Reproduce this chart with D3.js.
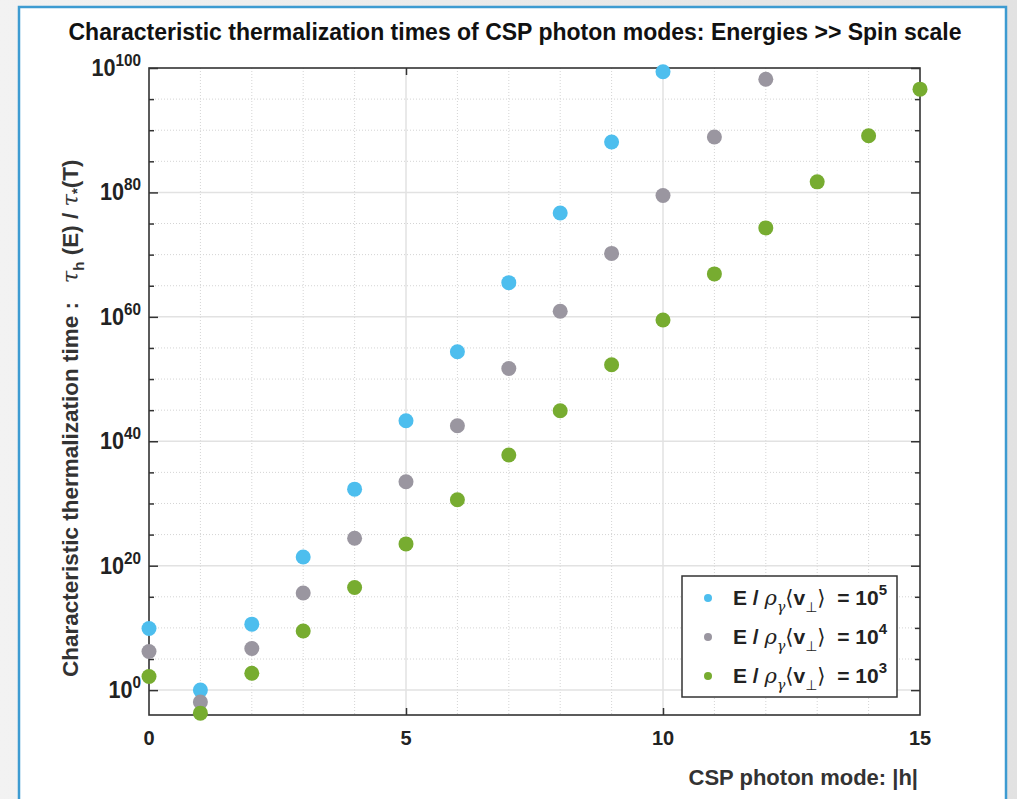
<!DOCTYPE html>
<html>
<head>
<meta charset="utf-8">
<script src="https://cdn.jsdelivr.net/npm/d3@7"></script>
<style>
  body { margin: 0; background: #fff; }
  text { font-family: "Liberation Sans", Arial, sans-serif; white-space: pre; }
</style>
</head>
<body>
<svg id="chart"></svg>
<script>
// data: log10 of tau_h(E)/tau_*(T)
let modes = d3.range(0, 16)
let blueExp  = [9.9, 0.0, 10.6, 21.4, 32.3, 43.3, 54.4, 65.5, 76.7, 88.1, 99.4]
let grayExp  = [6.2, -1.9, 6.7, 15.6, 24.4, 33.5, 42.5, 51.7, 60.9, 70.2, 79.5, 88.9, 98.2]
let greenExp = [2.2, -3.7, 2.7, 9.5, 16.5, 23.5, 30.6, 37.8, 44.9, 52.3, 59.5, 66.9, 74.3, 81.7, 89.1, 96.6]
let legendPow = ['5', '4', '3']
let xTicks = [0, 5, 10, 15]
let yTickExp = [0, 20, 40, 60, 80, 100]

let series = [
  {name: '5', exps: blueExp,  color: '#4dbeee'},
  {name: '4', exps: grayExp,  color: '#9a96a0'},
  {name: '3', exps: greenExp, color: '#77ac30'},
]

let W = 1017, H = 799
let svg = d3.select('#chart').attr('width', W).attr('height', H)

// page frame
let defs = svg.append('defs')
let grad = defs.append('linearGradient').attr('id', 'bg').attr('x1', 0).attr('x2', 1)
grad.append('stop').attr('offset', '0%').attr('stop-color', '#f2f2f2')
grad.append('stop').attr('offset', '100%').attr('stop-color', '#e2e2e2')
svg.append('rect').attr('width', W).attr('height', H).attr('fill', 'url(#bg)')
svg.append('rect').attr('x', 19).attr('y', 7).attr('width', 987).attr('height', H)
  .attr('fill', '#fff').attr('stroke', '#3d9bd1').attr('stroke-width', 2.5)

let L = 149, R = 920, T = 68, B = 715
let x = d3.scaleLinear().domain([0, 15]).range([L, R])
let y = d3.scaleLog().domain([1e-4, 1e100]).range([B, T])

// grid
let grid = svg.append('g')
let minorX = d3.range(1, 15).filter(d => d % 5 != 0)
let minorY = d3.range(0, 100, 5).filter(d => d % 20 != 0)
grid.selectAll('.gx').data(minorX).enter().append('line')
  .attr('x1', d => x(d)).attr('x2', d => x(d)).attr('y1', T).attr('y2', B)
  .attr('stroke', '#d4d4d4').attr('stroke-dasharray', '1,2')
grid.selectAll('.gy').data(minorY).enter().append('line')
  .attr('y1', d => y(Math.pow(10, d))).attr('y2', d => y(Math.pow(10, d))).attr('x1', L).attr('x2', R)
  .attr('stroke', '#d4d4d4').attr('stroke-dasharray', '1,2')
grid.selectAll('.Gx').data([5, 10]).enter().append('line')
  .attr('x1', d => x(d)).attr('x2', d => x(d)).attr('y1', T).attr('y2', B)
  .attr('stroke', '#e2e2e2').attr('stroke-width', 1.5)
grid.selectAll('.Gy').data([0, 20, 40, 60, 80]).enter().append('line')
  .attr('y1', d => y(Math.pow(10, d))).attr('y2', d => y(Math.pow(10, d))).attr('x1', L).attr('x2', R)
  .attr('stroke', '#e2e2e2').attr('stroke-width', 1.5)

// axes: box with inward ticks
let axCol = '#333'
let ax = svg.append('g')
ax.append('g').attr('transform', `translate(0,${B})`)
  .call(d3.axisBottom(x).tickValues([5, 10]).tickSize(-7).tickFormat(''))
ax.append('g').attr('transform', `translate(0,${T})`)
  .call(d3.axisTop(x).tickValues([5, 10]).tickSize(-7).tickFormat(''))
ax.append('g').attr('transform', `translate(${L},0)`)
  .call(d3.axisLeft(y).tickValues(yTickExp.map(d => Math.pow(10, d))).tickSize(-9).tickFormat(''))
ax.append('g').attr('transform', `translate(${R},0)`)
  .call(d3.axisRight(y).tickValues(yTickExp.map(d => Math.pow(10, d))).tickSize(-9).tickFormat(''))
ax.append('g').attr('transform', `translate(${L},0)`)
  .call(d3.axisLeft(y).tickValues(minorY.map(d => Math.pow(10, d))).tickSize(-5).tickFormat(''))
ax.append('g').attr('transform', `translate(${R},0)`)
  .call(d3.axisRight(y).tickValues(minorY.map(d => Math.pow(10, d))).tickSize(-5).tickFormat(''))
ax.selectAll('.domain').remove()
ax.selectAll('line').attr('stroke', axCol).attr('stroke-width', 1.5)
ax.append('rect').attr('x', L).attr('y', T).attr('width', R - L).attr('height', B - T)
  .attr('fill', 'none').attr('stroke', axCol).attr('stroke-width', 1.6)

// tick labels
svg.selectAll('.xl').data(xTicks).enter().append('text')
  .attr('x', d => x(d)).attr('y', 745).attr('text-anchor', 'middle')
  .attr('font-size', 20).attr('font-weight', 'bold').attr('fill', '#222').text(d => d)
let yl = svg.selectAll('.yl').data(yTickExp).enter().append('g')
  .attr('transform', d => `translate(141,${y(Math.pow(10, d)) + 8}) scale(0.9,1)`)
  .append('text').attr('text-anchor', 'end').attr('font-weight', 'bold').attr('fill', '#222')
yl.append('tspan').attr('font-size', 24).text('10')
yl.append('tspan').attr('font-size', 17).attr('dy', -10).text(d => d)

// points
series.forEach(s => {
  svg.append('g').selectAll('circle').data(s.exps).enter().append('circle')
    .attr('cx', (d, i) => x(modes[i])).attr('cy', d => y(Math.pow(10, d)))
    .attr('r', 7.5).attr('fill', s.color)
})

// title
svg.append('text').attr('x', 515).attr('y', 40).attr('text-anchor', 'middle')
  .attr('font-size', 23).attr('font-weight', 'bold').attr('fill', '#111')
  .text('Characteristic thermalization times of CSP photon modes: Energies >> Spin scale')

// x label
svg.append('text').attr('x', 918).attr('y', 785).attr('text-anchor', 'end')
  .attr('font-size', 22).attr('font-weight', 'bold').attr('fill', '#333')
  .text('CSP photon mode: |h|')

// y label
let ylab = svg.append('text').attr('transform', 'translate(78,677) rotate(-90)')
  .attr('text-anchor', 'start').attr('font-size', 22.5).attr('font-weight', 'bold').attr('fill', '#333')
ylab.append('tspan').text('Characteristic thermalization time :   ')
ylab.append('tspan').attr('font-style', 'italic').attr('font-weight', 'normal').attr('font-family', 'DejaVu Serif').text('τ')
ylab.append('tspan').attr('font-size', 15).attr('dy', 6).text('h')
ylab.append('tspan').attr('dy', -6).text(' (E) / ')
ylab.append('tspan').attr('font-style', 'italic').attr('font-weight', 'normal').attr('font-family', 'DejaVu Serif').text('τ')
ylab.append('tspan').attr('font-size', 15).attr('dy', 4).text('*')
ylab.append('tspan').attr('dy', -4).text('(T)')

// legend
let lg = svg.append('g')
lg.append('rect').attr('x', 682).attr('y', 576).attr('width', 215).attr('height', 121)
  .attr('fill', '#fff').attr('stroke', '#333').attr('stroke-width', 1.5)
series.forEach((s, i) => {
  let yy = 598 + i * 39
  lg.append('circle').attr('cx', 708).attr('cy', yy).attr('r', 4).attr('fill', s.color)
  let t = lg.append('text').attr('x', 733).attr('y', yy + 7).attr('font-size', 21)
    .attr('font-weight', 'bold').attr('fill', '#222')
  t.append('tspan').text('E / ')
  t.append('tspan').attr('font-style', 'italic').attr('font-weight', 'normal').attr('font-family', 'DejaVu Serif').text('ρ')
  t.append('tspan').attr('font-style', 'italic').attr('font-weight', 'normal').attr('font-family', 'DejaVu Serif')
    .attr('font-size', 14).attr('dy', 7).text('γ')
  t.append('tspan').attr('dy', -7).attr('font-weight', 'normal').attr('font-family', 'DejaVu Sans').text('⟨')
  t.append('tspan').text('v')
  t.append('tspan').attr('font-size', 14).attr('dy', 7).attr('font-weight', 'normal').attr('font-family', 'DejaVu Sans').text('⊥')
  t.append('tspan').attr('dy', -7).attr('font-weight', 'normal').attr('font-family', 'DejaVu Sans').text('⟩')
  t.append('tspan').text('  = 10')
  t.append('tspan').attr('font-size', 15).attr('dy', -10).text(legendPow[i])
})
</script>
</body>
</html>
